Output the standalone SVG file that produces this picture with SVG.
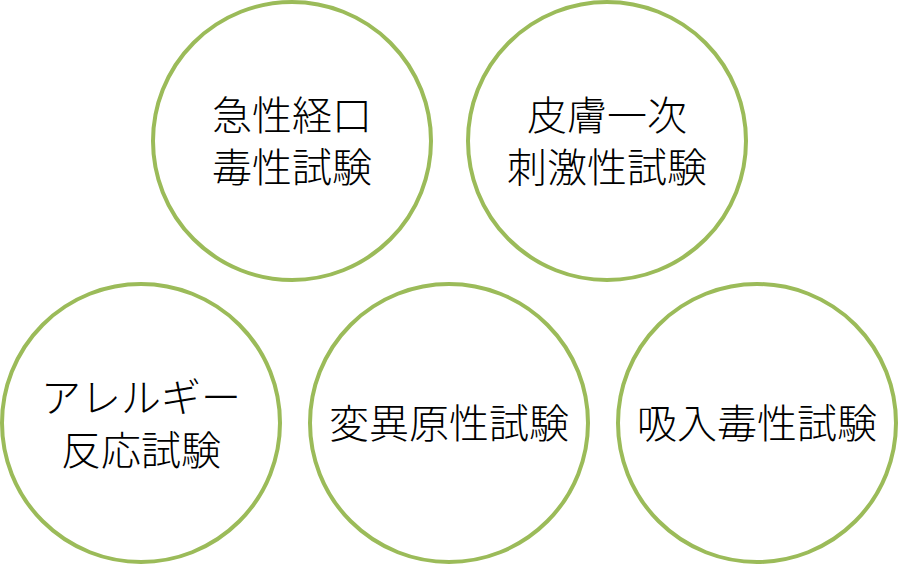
<svg xmlns="http://www.w3.org/2000/svg" width="899" height="565" viewBox="0 0 899 565">
<style>
.c{fill:#FFFFFF;stroke:#9BBB59;stroke-width:4}
.t{font-family:"Noto Sans CJK JP","Noto Sans CJK SC",sans-serif;font-size:40px;fill:#000000;text-anchor:middle;font-weight:300}
</style>
<rect width="899" height="565" fill="#FFFFFF"/>
<g id="connectors"></g>
<g id="node1"><circle class="c" cx="292" cy="141" r="139"/><text class="t" x="292" y="130">急性経口</text><text class="t" x="292" y="182">毒性試験</text></g>
<g id="node2"><circle class="c" cx="607" cy="141" r="139"/><text class="t" x="607" y="130">皮膚一次</text><text class="t" x="607" y="182">刺激性試験</text></g>
<g id="node3"><circle class="c" cx="141" cy="423" r="139"/><text class="t" x="141" y="412">アレルギー</text><text class="t" x="141" y="465">反応試験</text></g>
<g id="node4"><circle class="c" cx="449" cy="423" r="139"/><text class="t" x="449" y="438">変異原性試験</text></g>
<g id="node5"><circle class="c" cx="757" cy="423" r="139"/><text class="t" x="757" y="438">吸入毒性試験</text></g>
</svg>
